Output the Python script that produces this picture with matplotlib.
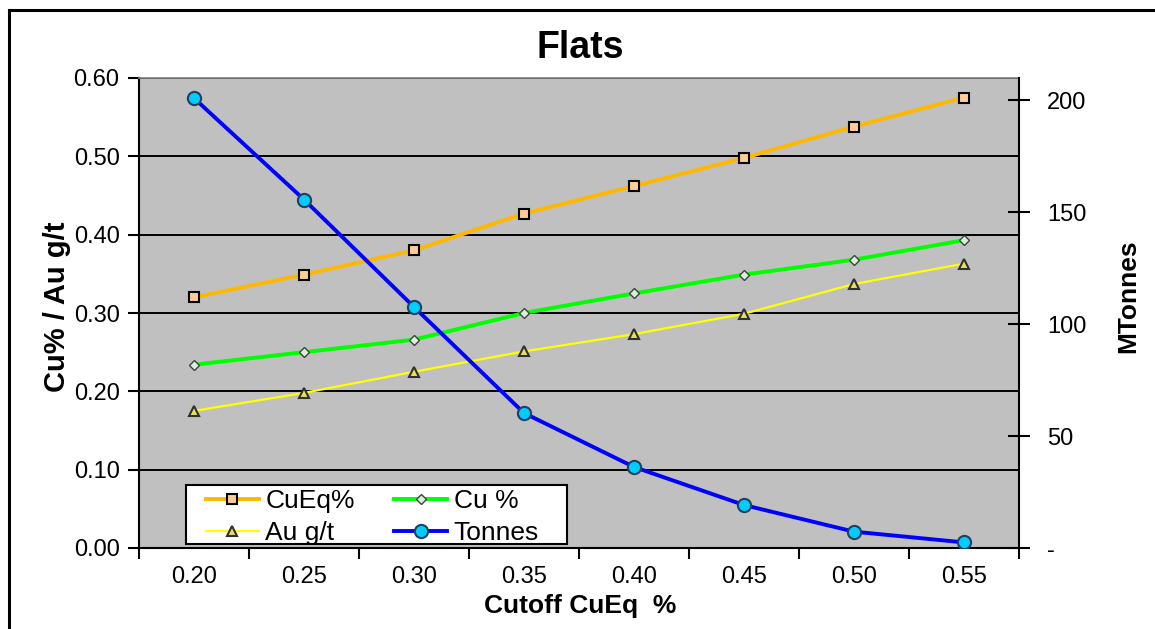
import matplotlib
matplotlib.use("Agg")
import matplotlib.pyplot as plt
from matplotlib.lines import Line2D
from matplotlib.patches import Rectangle
import numpy as np

plt.rcParams['font.family'] = ['Liberation Sans', 'DejaVu Sans']

categories = ["0.20", "0.25", "0.30", "0.35", "0.40", "0.45", "0.50", "0.55"]
cueq = [0.320, 0.349, 0.380, 0.427, 0.462, 0.498, 0.538, 0.575]
cu = [0.234, 0.250, 0.266, 0.300, 0.325, 0.349, 0.368, 0.393]
au = [0.175, 0.198, 0.225, 0.251, 0.273, 0.299, 0.337, 0.363]
tonnes = [201.0, 155.7, 107.7, 60.3, 36.2, 19.2, 7.3, 2.5]

left_ticks = [0.0, 0.1, 0.2, 0.3, 0.4, 0.5, 0.6]
right_ticks = [0, 50, 100, 150, 200]
right_labels = ["-", "50", "100", "150", "200"]

W, H = 1155, 629
fig = plt.figure(figsize=(W / 100, H / 100), dpi=100)
fig.patch.set_facecolor("white")

# outer chart border (partially cropped)
fig.add_artist(Line2D([9 / W, 9 / W], [0, 1 - 10 / H], color="black", lw=2.2, transform=fig.transFigure))
fig.add_artist(Line2D([9 / W, 1], [1 - 10 / H, 1 - 10 / H], color="black", lw=2.2, transform=fig.transFigure))

ax = fig.add_axes([139 / W, 81 / H, 880 / W, 470 / H])
ax.set_facecolor("#C0C0C0")
x = np.arange(len(categories))

ax.set_xlim(-0.5, len(categories) - 0.5)
ax.set_ylim(0, 0.6)
ax.set_yticks(left_ticks)
ax.set_yticklabels([f"{v:.2f}" for v in left_ticks])
ax.yaxis.grid(True, color="black", lw=1.4)
ax.set_axisbelow(True)

TS = 17
ax.set_xticks(x)
ax.set_xticklabels(categories)
ax.set_xticks(np.arange(-0.5, len(categories) + 0.5, 1), minor=True)
ax.tick_params(axis="x", which="major", length=0, pad=13, labelsize=TS)
ax.tick_params(axis="x", which="minor", length=8, width=1.5, direction="out")
ax.tick_params(axis="y", which="major", length=8, width=1.5, direction="out", pad=6, labelsize=TS)

for s in ["left", "bottom"]:
    ax.spines[s].set_color("black")
    ax.spines[s].set_linewidth(1.5)
ax.spines["top"].set_color("#808080")
ax.spines["top"].set_linewidth(1.2)
ax.spines["right"].set_visible(False)

l1, = ax.plot(x, cueq, color="#FFB800", lw=2.8, marker="s", ms=6.5, mfc="#FFCC99", mec="black", mew=1.5, label="CuEq%", zorder=4)
l2, = ax.plot(x, cu, color="#00FF00", lw=2.8, marker="D", ms=5, mfc="#D8F0D8", mec="#404040", mew=1, label="Cu %", zorder=4)
l3, = ax.plot(x, au, color="#FFFF00", lw=1.6, marker="^", ms=7, mfc="#E8E060", mec="#303030", mew=1.5, label="Au g/t", zorder=4)

ax2 = ax.twinx()
ax2.set_ylim(0, 210)
ax2.set_yticks(right_ticks)
ax2.set_yticklabels(right_labels)
ax2.tick_params(axis="y", which="major", length=16, width=1.5, direction="inout", pad=12, labelsize=TS)
ax2.spines["right"].set_color("black")
ax2.spines["right"].set_linewidth(1.5)
for s in ["left", "bottom", "top"]:
    ax2.spines[s].set_visible(False)
l4, = ax2.plot(x, tonnes, color="#0000FF", lw=2.8, marker="o", ms=9.5, mfc="#00CCFF", mec="#204060", mew=1.5, label="Tonnes", zorder=5)

# legend frame
frame = Rectangle(((186 - 139) / 880, (548 - 544) / 470), 381 / 880, 59 / 470,
                  transform=ax2.transAxes, facecolor="white", edgecolor="black", lw=1.5, zorder=6)
ax2.add_patch(frame)
leg = ax2.legend(handles=[l1, l3, l2, l4], ncol=2, loc="upper left",
                 bbox_to_anchor=((206 - 139) / 880, (548 - 489) / 470), fontsize=19, frameon=False,
                 borderpad=0, handlelength=2.0, handletextpad=0.25,
                 columnspacing=1.5, labelspacing=0.3, borderaxespad=0)
leg.set_zorder(7)

fig.text(580 / W, 1 - 48 / H, "Flats", ha="center", va="center", fontsize=27, fontweight="bold")
fig.text(580 / W, 1 - 606 / H, "Cutoff CuEq  %", ha="center", va="center", fontsize=19, fontweight="bold")
fig.text(57 / W, 1 - 307 / H, "Cu% / Au g/t", ha="center", va="center", rotation=90, fontsize=21, fontweight="bold")
fig.text(1128 / W, 1 - 296 / H, "MTonnes", ha="center", va="center", rotation=90, fontsize=19, fontweight="bold")

fig.savefig("out.png", dpi=100)
